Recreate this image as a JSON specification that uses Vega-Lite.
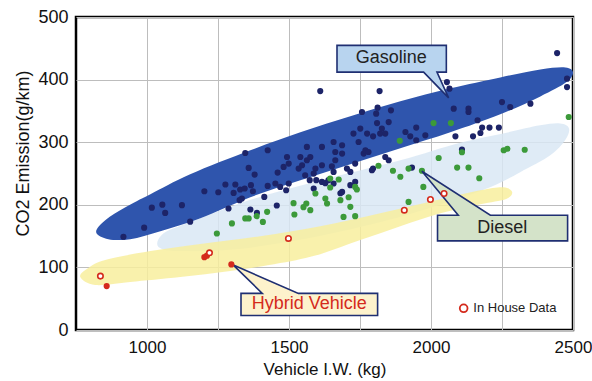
{
  "$schema": "https://vega.github.io/schema/vega-lite/v6.json",
  "width": 497,
  "height": 313,
  "autosize": "none",
  "padding": {"left": 76, "top": 17, "right": 19, "bottom": 51},
  "background": "white",
  "config": {
    "view": {"stroke": "#000000", "strokeWidth": 2.5},
    "font": "Liberation Sans"
  },
  "datasets": {
    "shapes": [
      {"s": "diesel", "i": 0, "x": 1036, "y": 139}, {"s": "diesel", "i": 1, "x": 1064, "y": 156}, {"s": "diesel", "i": 2, "x": 1152, "y": 172}, {"s": "diesel", "i": 3, "x": 1364, "y": 208}, {"s": "diesel", "i": 4, "x": 1610, "y": 239}, {"s": "diesel", "i": 5, "x": 1892, "y": 271}, {"s": "diesel", "i": 6, "x": 2103, "y": 299}, {"s": "diesel", "i": 7, "x": 2254, "y": 314}, {"s": "diesel", "i": 8, "x": 2384, "y": 327}, {"s": "diesel", "i": 9, "x": 2455, "y": 330}, {"s": "diesel", "i": 10, "x": 2486, "y": 322}, {"s": "diesel", "i": 11, "x": 2472, "y": 303}, {"s": "diesel", "i": 12, "x": 2420, "y": 279}, {"s": "diesel", "i": 13, "x": 2314, "y": 252}, {"s": "diesel", "i": 14, "x": 2208, "y": 228}, {"s": "diesel", "i": 15, "x": 2032, "y": 200}, {"s": "diesel", "i": 16, "x": 1821, "y": 172}, {"s": "diesel", "i": 17, "x": 1540, "y": 144}, {"s": "diesel", "i": 18, "x": 1293, "y": 128}, {"s": "diesel", "i": 19, "x": 1117, "y": 126}, {"s": "diesel", "i": 20, "x": 1054, "y": 129},
      {"s": "hybrid", "i": 0, "x": 765, "y": 84.5}, {"s": "hybrid", "i": 1, "x": 793, "y": 98.9}, {"s": "hybrid", "i": 2, "x": 853, "y": 111.7}, {"s": "hybrid", "i": 3, "x": 1012, "y": 126}, {"s": "hybrid", "i": 4, "x": 1188, "y": 137.2}, {"s": "hybrid", "i": 5, "x": 1399, "y": 149.9}, {"s": "hybrid", "i": 6, "x": 1610, "y": 165.9}, {"s": "hybrid", "i": 7, "x": 1821, "y": 186.6}, {"s": "hybrid", "i": 8, "x": 2033, "y": 208.9}, {"s": "hybrid", "i": 9, "x": 2174, "y": 223.3}, {"s": "hybrid", "i": 10, "x": 2255, "y": 228.1}, {"s": "hybrid", "i": 11, "x": 2286, "y": 220.1}, {"s": "hybrid", "i": 12, "x": 2262, "y": 208.9}, {"s": "hybrid", "i": 13, "x": 2174, "y": 201}, {"s": "hybrid", "i": 14, "x": 2033, "y": 186.6}, {"s": "hybrid", "i": 15, "x": 1892, "y": 165.9}, {"s": "hybrid", "i": 16, "x": 1751, "y": 143.6}, {"s": "hybrid", "i": 17, "x": 1610, "y": 121.2}, {"s": "hybrid", "i": 18, "x": 1469, "y": 106.9}, {"s": "hybrid", "i": 19, "x": 1293, "y": 94.1}, {"s": "hybrid", "i": 20, "x": 1117, "y": 84.5}, {"s": "hybrid", "i": 21, "x": 941, "y": 76.6}, {"s": "hybrid", "i": 22, "x": 818, "y": 71.8},
      {"s": "gas", "i": 0, "x": 821, "y": 156.3}, {"s": "gas", "i": 1, "x": 853, "y": 175.5}, {"s": "gas", "i": 2, "x": 924, "y": 196.2}, {"s": "gas", "i": 3, "x": 1012, "y": 216.9}, {"s": "gas", "i": 4, "x": 1152, "y": 248.8}, {"s": "gas", "i": 5, "x": 1364, "y": 287.1}, {"s": "gas", "i": 6, "x": 1540, "y": 315.8}, {"s": "gas", "i": 7, "x": 1716, "y": 341.3}, {"s": "gas", "i": 8, "x": 1892, "y": 365.3}, {"s": "gas", "i": 9, "x": 2068, "y": 386}, {"s": "gas", "i": 10, "x": 2244, "y": 403.5}, {"s": "gas", "i": 11, "x": 2385, "y": 416.3}, {"s": "gas", "i": 12, "x": 2473, "y": 419.5}, {"s": "gas", "i": 13, "x": 2500, "y": 411.5}, {"s": "gas", "i": 14, "x": 2476, "y": 395.6}, {"s": "gas", "i": 15, "x": 2385, "y": 373.2}, {"s": "gas", "i": 16, "x": 2244, "y": 344.5}, {"s": "gas", "i": 17, "x": 2068, "y": 315.8}, {"s": "gas", "i": 18, "x": 1892, "y": 290.3}, {"s": "gas", "i": 19, "x": 1716, "y": 264.8}, {"s": "gas", "i": 20, "x": 1540, "y": 239.3}, {"s": "gas", "i": 21, "x": 1364, "y": 212.1}, {"s": "gas", "i": 22, "x": 1188, "y": 178.6}, {"s": "gas", "i": 23, "x": 1047, "y": 157.9}, {"s": "gas", "i": 24, "x": 941, "y": 145.1}, {"s": "gas", "i": 25, "x": 864, "y": 145.1}
    ],
    "callouts": [
      {"c": "gas", "i": 0, "x": 1669, "y": 454.6}, {"c": "gas", "i": 1, "x": 2054, "y": 454.6}, {"c": "gas", "i": 2, "x": 2054, "y": 412}, {"c": "gas", "i": 3, "x": 2021, "y": 412}, {"c": "gas", "i": 4, "x": 2062, "y": 370.8}, {"c": "gas", "i": 5, "x": 1974, "y": 412}, {"c": "gas", "i": 6, "x": 1669, "y": 412},
      {"c": "diesel", "i": 0, "x": 2023, "y": 183.4}, {"c": "diesel", "i": 1, "x": 2096, "y": 183.4}, {"c": "diesel", "i": 2, "x": 1968, "y": 253.6}, {"c": "diesel", "i": 3, "x": 2209, "y": 183.4}, {"c": "diesel", "i": 4, "x": 2481, "y": 183.4}, {"c": "diesel", "i": 5, "x": 2481, "y": 142.4}, {"c": "diesel", "i": 6, "x": 2023, "y": 142.4},
      {"c": "hybrid", "i": 0, "x": 1331, "y": 58.5}, {"c": "hybrid", "i": 1, "x": 1406, "y": 58.5}, {"c": "hybrid", "i": 2, "x": 1304, "y": 103.7}, {"c": "hybrid", "i": 3, "x": 1533, "y": 58.5}, {"c": "hybrid", "i": 4, "x": 1812, "y": 58.5}, {"c": "hybrid", "i": 5, "x": 1812, "y": 23.1}, {"c": "hybrid", "i": 6, "x": 1331, "y": 23.1}
    ],
    "labels": [
      {"t": "Gasoline", "x": 1860, "y": 434, "c": "#222222"},
      {"t": "Diesel", "x": 2251, "y": 163, "c": "#222222"},
      {"t": "Hybrid Vehicle", "x": 1571, "y": 41, "c": "#d42a1c"}
    ],
    "pts": [
      {"t": "g", "x": 917, "y": 149}, {"t": "g", "x": 990, "y": 163.5}, {"t": "g", "x": 1017, "y": 195.4}, {"t": "g", "x": 1054, "y": 200.2}, {"t": "g", "x": 1064, "y": 187.1}, {"t": "g", "x": 1123, "y": 199.4}, {"t": "g", "x": 1152, "y": 173.1}, {"t": "g", "x": 1202, "y": 221.7}, {"t": "g", "x": 1251, "y": 220.1}, {"t": "g", "x": 1276, "y": 232.4}, {"t": "g", "x": 1287, "y": 194.1}, {"t": "g", "x": 1305, "y": 219}, {"t": "g", "x": 1311, "y": 232.4}, {"t": "g", "x": 1326, "y": 207.4}, {"t": "g", "x": 1334, "y": 210.1}, {"t": "g", "x": 1328, "y": 224.4}, {"t": "g", "x": 1344, "y": 226}, {"t": "g", "x": 1346, "y": 282.8}, {"t": "g", "x": 1358, "y": 258.9}, {"t": "g", "x": 1364, "y": 192.5}, {"t": "g", "x": 1366, "y": 231.3}, {"t": "g", "x": 1373, "y": 221.7}, {"t": "g", "x": 1379, "y": 248.3}, {"t": "g", "x": 1387, "y": 187.1}, {"t": "g", "x": 1413, "y": 212.6}, {"t": "g", "x": 1425, "y": 287.1}, {"t": "g", "x": 1425, "y": 230.2}, {"t": "g", "x": 1452, "y": 234}, {"t": "g", "x": 1457, "y": 198.9}, {"t": "g", "x": 1460, "y": 251.5}, {"t": "g", "x": 1469, "y": 228.6}, {"t": "g", "x": 1481, "y": 260.5}, {"t": "g", "x": 1490, "y": 223.3}, {"t": "g", "x": 1493, "y": 276.4}, {"t": "g", "x": 1499, "y": 265.9}, {"t": "g", "x": 1499, "y": 234}, {"t": "g", "x": 1534, "y": 257.9}, {"t": "g", "x": 1540, "y": 276.4}, {"t": "g", "x": 1546, "y": 263.2}, {"t": "g", "x": 1557, "y": 247.2}, {"t": "g", "x": 1563, "y": 292.4}, {"t": "g", "x": 1563, "y": 271.2}, {"t": "g", "x": 1573, "y": 239.3}, {"t": "g", "x": 1575, "y": 276.4}, {"t": "g", "x": 1587, "y": 249.9}, {"t": "g", "x": 1587, "y": 226}, {"t": "g", "x": 1593, "y": 257.9}, {"t": "g", "x": 1596, "y": 239.3}, {"t": "g", "x": 1610, "y": 381.7}, {"t": "g", "x": 1616, "y": 292.4}, {"t": "g", "x": 1616, "y": 263.2}, {"t": "g", "x": 1616, "y": 236.5}, {"t": "g", "x": 1628, "y": 234.5}, {"t": "g", "x": 1639, "y": 239.3}, {"t": "g", "x": 1651, "y": 261.6}, {"t": "g", "x": 1657, "y": 300.3}, {"t": "g", "x": 1657, "y": 252.5}, {"t": "g", "x": 1657, "y": 234}, {"t": "g", "x": 1663, "y": 284.4}, {"t": "g", "x": 1663, "y": 271.2}, {"t": "g", "x": 1681, "y": 218.5}, {"t": "g", "x": 1687, "y": 295.1}, {"t": "g", "x": 1687, "y": 281.8}, {"t": "g", "x": 1687, "y": 220.6}, {"t": "g", "x": 1704, "y": 257.9}, {"t": "g", "x": 1716, "y": 252.5}, {"t": "g", "x": 1716, "y": 231.3}, {"t": "g", "x": 1727, "y": 313.7}, {"t": "g", "x": 1733, "y": 265.9}, {"t": "g", "x": 1733, "y": 236.5}, {"t": "g", "x": 1745, "y": 300.3}, {"t": "g", "x": 1751, "y": 321.7}, {"t": "g", "x": 1757, "y": 348.2}, {"t": "g", "x": 1763, "y": 281.8}, {"t": "g", "x": 1769, "y": 287.1}, {"t": "g", "x": 1775, "y": 313.7}, {"t": "g", "x": 1780, "y": 284.4}, {"t": "g", "x": 1792, "y": 255.2}, {"t": "g", "x": 1796, "y": 309.4}, {"t": "g", "x": 1796, "y": 257.9}, {"t": "g", "x": 1807, "y": 345.6}, {"t": "g", "x": 1810, "y": 330.6}, {"t": "g", "x": 1812, "y": 355.2}, {"t": "g", "x": 1819, "y": 381.7}, {"t": "g", "x": 1821, "y": 313.7}, {"t": "g", "x": 1827, "y": 321.7}, {"t": "g", "x": 1839, "y": 313.7}, {"t": "g", "x": 1839, "y": 276.4}, {"t": "g", "x": 1851, "y": 332.2}, {"t": "g", "x": 1851, "y": 271.2}, {"t": "g", "x": 1859, "y": 350.9}, {"t": "g", "x": 1910, "y": 316.3}, {"t": "g", "x": 1927, "y": 309.4}, {"t": "g", "x": 1933, "y": 259.5}, {"t": "g", "x": 1948, "y": 323.3}, {"t": "g", "x": 1948, "y": 303.1}, {"t": "g", "x": 1980, "y": 311}, {"t": "g", "x": 2056, "y": 396}, {"t": "g", "x": 2065, "y": 385.5}, {"t": "g", "x": 2080, "y": 353.6}, {"t": "g", "x": 2086, "y": 309.4}, {"t": "g", "x": 2109, "y": 288.2}, {"t": "g", "x": 2132, "y": 353.6}, {"t": "g", "x": 2132, "y": 348.2}, {"t": "g", "x": 2148, "y": 309.4}, {"t": "g", "x": 2164, "y": 335}, {"t": "g", "x": 2174, "y": 314.7}, {"t": "g", "x": 2180, "y": 323.3}, {"t": "g", "x": 2206, "y": 323.3}, {"t": "g", "x": 2239, "y": 323.3}, {"t": "g", "x": 2250, "y": 364.1}, {"t": "g", "x": 2279, "y": 356.2}, {"t": "g", "x": 2350, "y": 361.6}, {"t": "g", "x": 2444, "y": 442.3}, {"t": "g", "x": 2479, "y": 401.5}, {"t": "g", "x": 2479, "y": 388.1},
      {"t": "d", "x": 1246, "y": 154.2}, {"t": "d", "x": 1299, "y": 170.2}, {"t": "d", "x": 1346, "y": 178.2}, {"t": "d", "x": 1358, "y": 178.2}, {"t": "d", "x": 1386, "y": 181.8}, {"t": "d", "x": 1408, "y": 172.7}, {"t": "d", "x": 1423, "y": 188.7}, {"t": "d", "x": 1516, "y": 202.6}, {"t": "d", "x": 1519, "y": 184.5}, {"t": "d", "x": 1551, "y": 196.2}, {"t": "d", "x": 1561, "y": 202.1}, {"t": "d", "x": 1575, "y": 191.4}, {"t": "d", "x": 1593, "y": 218}, {"t": "d", "x": 1628, "y": 210.1}, {"t": "d", "x": 1634, "y": 202.1}, {"t": "d", "x": 1645, "y": 242}, {"t": "d", "x": 1645, "y": 227.6}, {"t": "d", "x": 1675, "y": 240.4}, {"t": "d", "x": 1681, "y": 207.4}, {"t": "d", "x": 1710, "y": 212.1}, {"t": "d", "x": 1716, "y": 196.7}, {"t": "d", "x": 1692, "y": 180.7}, {"t": "d", "x": 1733, "y": 181.8}, {"t": "d", "x": 1733, "y": 228.6}, {"t": "d", "x": 1739, "y": 224.4}, {"t": "d", "x": 1815, "y": 262.4}, {"t": "d", "x": 1866, "y": 254.4}, {"t": "d", "x": 1892, "y": 244.8}, {"t": "d", "x": 1921, "y": 257.9}, {"t": "d", "x": 1921, "y": 204.6}, {"t": "d", "x": 1973, "y": 228.6}, {"t": "d", "x": 1890, "y": 302.3}, {"t": "d", "x": 2009, "y": 330.6}, {"t": "d", "x": 2070, "y": 330.6}, {"t": "d", "x": 2027, "y": 274.7}, {"t": "d", "x": 2109, "y": 283.9}, {"t": "d", "x": 2092, "y": 259.5}, {"t": "d", "x": 2132, "y": 259.5}, {"t": "d", "x": 2170, "y": 242.4}, {"t": "d", "x": 2256, "y": 287.1}, {"t": "d", "x": 2269, "y": 289.5}, {"t": "d", "x": 2330, "y": 287.9}, {"t": "d", "x": 2485, "y": 340.2}, {"t": "d", "x": 1968, "y": 254.4},
      {"t": "h", "x": 858, "y": 70.2}, {"t": "h", "x": 1202, "y": 116.4}, {"t": "h", "x": 1211, "y": 118.8}, {"t": "h", "x": 1297, "y": 104.8},
      {"t": "o", "x": 836, "y": 86.1}, {"t": "o", "x": 1220, "y": 123.3}, {"t": "o", "x": 1498, "y": 146.3}, {"t": "o", "x": 1906, "y": 191.4}, {"t": "o", "x": 1998, "y": 208.5}, {"t": "o", "x": 2046, "y": 218}
    ],
    "legend": [{"x": 2115, "y": 34.6, "tx": 2149, "t": "In House Data"}]
  },
  "layer": [
    {
      "data": {"name": "shapes"},
      "transform": [{"filter": "datum.s == 'diesel'"}],
      "mark": {"type": "line", "interpolate": "cardinal-closed", "fill": "#d9e7f4", "fillOpacity": 0.85, "strokeWidth": 0, "clip": true},
      "encoding": {
        "x": {
          "field": "x", "type": "quantitative",
          "scale": {"domain": [750, 2500], "nice": false, "zero": false},
          "axis": {
            "values": [1000, 1250, 1500, 1750, 2000, 2250, 2500],
            "labelExpr": "datum.value % 500 == 0 ? datum.label : ''",
            "format": "d", "grid": true, "gridColor": "#bdbdbd", "gridWidth": 1,
            "ticks": false, "domain": false, "labelFontSize": 17, "labelColor": "#111111",
            "labelPadding": 9, "labelFlush": false, "labelOverlap": false,
            "title": "Vehicle I.W. (kg)", "titleFontSize": 17, "titleFontWeight": "normal",
            "titleColor": "#111111", "titlePadding": 6
          }
        },
        "y": {
          "field": "y", "type": "quantitative",
          "scale": {"domain": [0, 500], "nice": false},
          "axis": {
            "values": [0, 100, 200, 300, 400, 500],
            "grid": true, "gridColor": "#bdbdbd", "gridWidth": 1,
            "ticks": false, "domain": false, "labelFontSize": 18, "labelColor": "#111111",
            "labelPadding": 8, "labelFlush": false,
            "title": "CO2 Emission(g/km)", "titleFontSize": 18, "titleFontWeight": "normal",
            "titleColor": "#111111", "titleX": -53, "titleY": 136, "titleBaseline": "middle"
          }
        },
        "order": {"field": "i", "type": "quantitative"}
      }
    },
    {
      "data": {"name": "shapes"},
      "transform": [{"filter": "datum.s == 'hybrid'"}],
      "mark": {"type": "line", "interpolate": "cardinal-closed", "fill": "#f8ef9e", "fillOpacity": 0.85, "strokeWidth": 0, "clip": true},
      "encoding": {
        "x": {"field": "x", "type": "quantitative"},
        "y": {"field": "y", "type": "quantitative"},
        "order": {"field": "i", "type": "quantitative"}
      }
    },
    {
      "data": {"name": "shapes"},
      "transform": [{"filter": "datum.s == 'gas'"}],
      "mark": {"type": "line", "interpolate": "cardinal-closed", "fill": "#2f55ad", "strokeWidth": 0, "clip": true},
      "encoding": {
        "x": {"field": "x", "type": "quantitative"},
        "y": {"field": "y", "type": "quantitative"},
        "order": {"field": "i", "type": "quantitative"}
      }
    },
    {
      "data": {"name": "pts"},
      "transform": [{"filter": "datum.t == 'g'"}],
      "mark": {"type": "circle", "size": 38, "color": "#1d2468", "opacity": 1},
      "encoding": {
        "x": {"field": "x", "type": "quantitative"},
        "y": {"field": "y", "type": "quantitative"}
      }
    },
    {
      "data": {"name": "pts"},
      "transform": [{"filter": "datum.t == 'd'"}],
      "mark": {"type": "circle", "size": 38, "color": "#3c9a3a", "opacity": 1},
      "encoding": {
        "x": {"field": "x", "type": "quantitative"},
        "y": {"field": "y", "type": "quantitative"}
      }
    },
    {
      "data": {"name": "callouts"},
      "transform": [{"filter": "datum.c == 'gas'"}],
      "mark": {"type": "line", "interpolate": "linear-closed", "fill": "#b8d4ef", "stroke": "#1f2f72", "strokeWidth": 1.6},
      "encoding": {
        "x": {"field": "x", "type": "quantitative"},
        "y": {"field": "y", "type": "quantitative"},
        "order": {"field": "i", "type": "quantitative"}
      }
    },
    {
      "data": {"name": "callouts"},
      "transform": [{"filter": "datum.c == 'diesel'"}],
      "mark": {"type": "line", "interpolate": "linear-closed", "fill": "#d4e3c9", "stroke": "#1f2f72", "strokeWidth": 1.6},
      "encoding": {
        "x": {"field": "x", "type": "quantitative"},
        "y": {"field": "y", "type": "quantitative"},
        "order": {"field": "i", "type": "quantitative"}
      }
    },
    {
      "data": {"name": "callouts"},
      "transform": [{"filter": "datum.c == 'hybrid'"}],
      "mark": {"type": "line", "interpolate": "linear-closed", "fill": "#fdf2cc", "stroke": "#1f2f72", "strokeWidth": 1.6},
      "encoding": {
        "x": {"field": "x", "type": "quantitative"},
        "y": {"field": "y", "type": "quantitative"},
        "order": {"field": "i", "type": "quantitative"}
      }
    },
    {
      "data": {"name": "labels"},
      "mark": {"type": "text", "fontSize": 18, "align": "center", "baseline": "middle", "font": "Liberation Sans"},
      "encoding": {
        "x": {"field": "x", "type": "quantitative"},
        "y": {"field": "y", "type": "quantitative"},
        "text": {"field": "t"},
        "color": {"field": "c", "type": "nominal", "scale": null}
      }
    },
    {
      "data": {"name": "pts"},
      "transform": [{"filter": "datum.t == 'h'"}],
      "mark": {"type": "circle", "size": 38, "color": "#d42a1c", "opacity": 1},
      "encoding": {
        "x": {"field": "x", "type": "quantitative"},
        "y": {"field": "y", "type": "quantitative"}
      }
    },
    {
      "data": {"name": "pts"},
      "transform": [{"filter": "datum.t == 'o'"}],
      "mark": {"type": "point", "shape": "circle", "size": 30, "filled": true, "fill": "#ffffff", "stroke": "#d42a1c", "strokeWidth": 1.6, "opacity": 1},
      "encoding": {
        "x": {"field": "x", "type": "quantitative"},
        "y": {"field": "y", "type": "quantitative"}
      }
    },
    {
      "data": {"name": "legend"},
      "mark": {"type": "point", "shape": "circle", "size": 60, "filled": true, "fill": "#ffffff", "stroke": "#d42a1c", "strokeWidth": 1.8, "opacity": 1},
      "encoding": {
        "x": {"field": "x", "type": "quantitative"},
        "y": {"field": "y", "type": "quantitative"}
      }
    },
    {
      "data": {"name": "legend"},
      "mark": {"type": "text", "fontSize": 13, "align": "left", "baseline": "middle", "color": "#222222", "font": "Liberation Sans"},
      "encoding": {
        "x": {"field": "tx", "type": "quantitative"},
        "y": {"field": "y", "type": "quantitative"},
        "text": {"field": "t"}
      }
    }
  ]
}
